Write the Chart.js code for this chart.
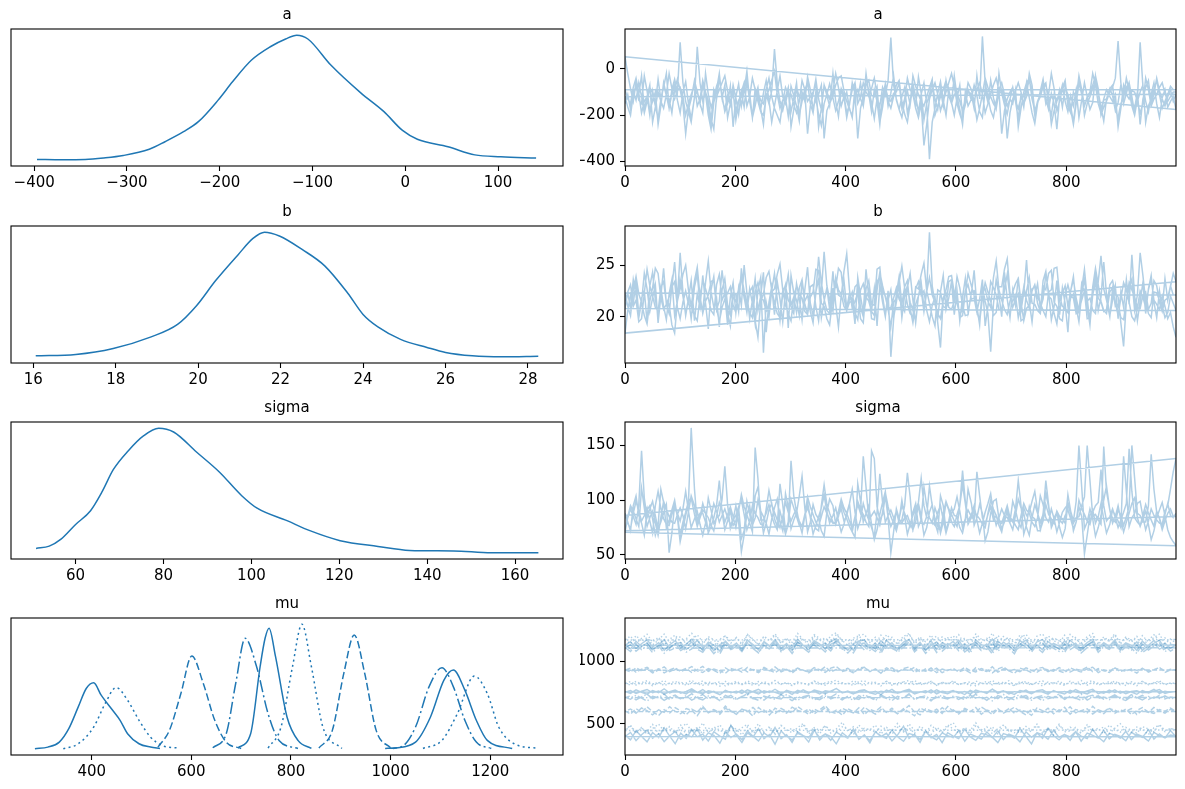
<!DOCTYPE html>
<html>
<head>
<meta charset="utf-8">
<script src="https://cdn.jsdelivr.net/npm/chart.js@4.4.0/dist/chart.umd.min.js"></script>
<style>
  body { margin: 0; background: #fff; width: 1185px; height: 789px; position: relative; overflow: hidden; }
  canvas { position: absolute; }
</style>
</head>
<body>
<canvas id="kde-a"></canvas><canvas id="trace-a"></canvas>
<canvas id="kde-b"></canvas><canvas id="trace-b"></canvas>
<canvas id="kde-sigma"></canvas><canvas id="trace-sigma"></canvas>
<canvas id="kde-mu"></canvas><canvas id="trace-mu"></canvas>
<script>
// ---- density curves (x, relative height) ----
const kdeAX = [-397, -370, -345, -325, -304, -276, -259, -239, -223, -202, -186, -166, -145, -129, -117, -105, -80, -48, -23, -3, 13, 46, 75, 103, 141];
const kdeAY = [0.9, 0.6, 0.8, 2, 4, 9, 15, 23, 31, 48, 63, 80, 91, 97, 100, 97, 76, 54, 39, 24, 17, 11, 4.5, 3, 2];

const kdeBX = [16.06, 17.03, 17.94, 18.86, 19.5, 19.96, 20.42, 20.97, 21.33, 21.61, 21.97, 22.53, 23.07, 23.63, 24.0, 24.36, 24.91, 25.55, 26.0, 26.65, 27.38, 28.25];
const kdeBY = [0.8, 1.9, 6.7, 16, 26, 41, 61, 82, 95, 100, 97, 86, 73, 51, 34, 24, 14, 7.5, 3.5, 0.8, 0, 0.5];

const kdeSigmaX = [51, 54, 56.6, 60, 63.4, 66, 68.6, 72, 75.5, 78.9, 82.3, 87.5, 92.7, 97.8, 101.3, 108.1, 113.3, 120.2, 128.8, 136, 146, 154.6, 165.3];
const kdeSigmaY = [3.8, 5.6, 11, 23, 34, 49, 67, 82, 94, 100, 97, 81, 65, 46, 36, 26, 18, 10, 5.4, 2.2, 1.8, 0.3, 0.4];

const muKdeX = [
  [286, 312, 335, 354, 373, 389, 404, 419, 442, 457, 472, 495, 518, 537],
  [343, 373, 404, 427, 449, 472, 495, 518, 541, 575],
  [533, 556, 579, 601, 624, 647, 670, 700],
  [643, 670, 689, 708, 731, 754, 776, 814],
  [693, 719, 738, 748, 756, 769, 792, 814, 841],
  [754, 780, 803, 822, 841, 864, 902],
  [856, 883, 906, 927, 948, 971, 1001],
  [989, 1020, 1050, 1077, 1103, 1126, 1149, 1172, 1202],
  [1005, 1050, 1080, 1107, 1126, 1149, 1172, 1194, 1244],
  [1065, 1103, 1134, 1168, 1194, 1217, 1248, 1297]
];
const muKdeY = [
  [0, 5, 20, 60, 125, 180, 197, 160, 115, 85, 45, 15, 5, 1],
  [0, 15, 65, 135, 183, 145, 85, 35, 10, 2],
  [5, 55, 165, 277, 195, 85, 20, 1],
  [3, 45, 195, 330, 245, 105, 25, 1],
  [2, 45, 245, 330, 360, 275, 95, 25, 1],
  [2, 65, 245, 372, 245, 65, 1],
  [2, 55, 225, 340, 225, 55, 1],
  [1, 5, 65, 185, 242, 185, 85, 20, 1],
  [1, 20, 95, 205, 235, 175, 85, 25, 1],
  [1, 25, 105, 217, 165, 65, 15, 1]
];

// ---- traces (every 5th draw, 4 chains each) ----
const traceA = [
  [-150,-110,-175,-95,-135,-60,-120,-190,-140,-80,-105,-160,-215,-130,-70,-115,-170,-90,-45,-100,
   115,-60,-140,-185,-230,-120,-95,-150,-75,-110,-200,-260,-145,-90,-20,-130,-175,-115,-155,-70,
   -125,-195,-100,-165,-55,-135,-210,-85,-120,-170,-240,-110,-150,-95,85,-60,-140,-180,-125,-205,
   -75,-115,-160,-225,-100,-140,-35,-90,-170,-130,-195,-245,-150,-110,-65,-125,-180,-140,-85,-115,
   -190,-155,-60,-105,-300,-170,-120,-40,-95,-145,-215,-130,-160,-80,-115,-50,135,-70,-130,-175,
   -210,-140,-95,-155,-65,-120,-185,-110,-60,-150,-390,-230,-170,-105,-55,-135,-200,-90,-145,-30,
   -120,-175,-240,-100,-160,-130,-70,-115,-185,-210,-90,-145,-50,-125,-170,-20,-105,-155,-195,-130,
   -80,-140,-215,-110,-165,-60,-125,-190,-235,-150,-95,-45,-130,-175,-105,-150,-260,-120,-70,-140,
   -185,-115,-160,-90,-210,-135,-60,-120,-175,-145,-30,-100,-165,-225,-130,-85,-115,-180,-145,-70,
   -120,-40,-95,-160,-200,-130,115,-75,-140,-185,-110,-60,-150,-210,-125,-90,-165,-140,-120,-175],
  [52,-20,-85,-140,-60,-110,-30,-175,-120,-200,-95,-150,-45,-130,-80,-20,-165,-110,-70,-135,
   -190,-100,-55,-150,-215,-125,95,-60,-140,-105,-170,-230,-90,-130,-40,-115,-185,-150,-75,-250,
   -120,-65,-160,-95,-10,-140,-200,-120,-80,-175,-105,-50,-135,-230,-160,-95,-30,-120,-150,-90,
   -185,-125,-60,-200,-140,-100,-280,-160,-110,-45,-130,-175,-70,-115,-160,-20,-140,-205,-90,-130,
   -100,-170,-210,-80,-125,-60,-150,-20,-110,-185,-90,-140,-240,-120,-65,-160,-105,-30,-135,-175,
   -120,-80,-190,-140,-95,-160,-35,-105,-220,-150,-110,-60,-130,-175,-90,-160,-50,-115,-145,-200,
   -125,-70,-200,-155,-95,-110,-170,-30,-130,140,-60,-120,-180,-210,-140,-90,-60,-110,-160,-130,
   -150,-90,-250,-170,-100,-60,-40,-130,-180,-145,-120,-75,-60,-155,-200,-110,-140,-90,-165,-80,
   -110,-160,-230,-130,-50,-90,-160,-120,-100,-20,-70,-150,-190,-135,-130,-85,-70,-175,-210,-150,
   -120,-80,-60,-140,-170,-100,-240,-130,-80,-50,-150,-110,-40,-95,-130,-160,-120,-90,-140,-110],
  [-120,-165,-200,-110,-70,-135,-150,-30,-95,-180,-140,-100,-240,-160,-60,-115,-130,-190,-90,-45,
   -90,-150,-280,-175,-130,-50,-100,-150,-190,-20,-110,-165,-130,-75,-40,-125,-70,-210,-150,-95,
   -220,-140,-100,-60,-160,-120,-40,-90,-140,-185,-200,-120,-90,-50,-10,-110,-170,-135,-120,-80,
   -250,-175,-80,-120,-130,-90,-60,-150,-190,-100,-110,-70,-300,-180,-150,-115,-70,-40,-30,-95,
   -140,-175,-200,-120,-90,-130,-160,-70,-50,-115,-120,-80,-230,-165,-80,-125,-140,-105,-100,-60,
   -170,-130,-40,-90,-110,-170,-210,-150,-330,-240,-130,-90,-60,-110,-180,-140,-100,-60,-20,-75,
   -150,-195,-230,-120,-90,-135,-140,-90,-60,-110,-190,-150,-110,-70,-40,-95,-280,-180,-130,-100,
   -80,-140,-170,-125,-120,-90,-50,-100,-200,-150,-100,-70,-150,-110,-20,-85,-180,-140,-90,-60,
   -130,-175,-240,-150,-60,-110,-160,-125,-110,-70,-30,-85,-200,-165,-140,-100,-80,-40,120,-60,
   -150,-105,-60,-120,-190,-140,-100,-70,-230,-160,-130,-90,-50,-110,-170,-140,-110,-75,-90,-90],
  [-90,-130,-150,-80,-40,-105,-190,-140,-120,-70,-230,-165,-100,-140,-170,-110,-20,-85,-130,-95,
   -80,-120,-200,-150,-110,-70,-160,-130,-50,-100,-140,-215,-260,-120,-90,-60,-30,-95,-145,-110,
   -180,-135,-120,-80,-60,-105,-210,-160,-100,-135,-150,-90,-40,-120,-170,-200,-230,-140,-80,-110,
   -110,-155,-190,-140,-50,-90,-140,-120,-100,-65,-250,-170,-70,-100,-130,-95,-20,-80,-160,-120,
   -210,-150,-90,-60,-150,-120,-60,-100,-120,-85,-40,-110,-190,-150,-100,-140,-170,-120,-70,-50,
   -140,-195,-230,-150,-30,-75,-110,-140,-160,-120,-80,-45,-200,-160,-120,-90,-50,-115,-150,-110,
   -100,-140,-180,-130,-60,-90,-140,-220,-170,-110,-40,-80,-120,-150,-170,-100,-90,-130,-300,-190,
   -130,-95,-60,-100,-150,-120,-20,-70,-190,-140,-110,-80,-70,-120,-240,-180,-140,-110,-80,-50,
   -160,-190,-100,-130,-30,-90,-200,-150,-120,-85,-60,-105,-180,-130,-90,-120,-140,-110,-250,-170,
   -70,-110,-130,-95,-100,-140,-190,-150,-40,-90,-160,-130,-110,-80,-60,-105,-140,-120,-100,-100]
];
const traceB = [
  [21.5,22.3,20.8,23.6,22.1,19.9,21.4,24.2,22.7,20.5,21.8,23.1,19.4,22.0,24.7,21.2,20.3,22.9,25.3,21.6,
   26.2,22.4,20.1,21.7,23.5,19.6,22.2,20.9,24.0,21.3,18.8,22.6,23.9,20.7,21.5,24.5,22.1,19.2,21.9,23.3,
   20.4,22.8,21.1,25.0,22.3,19.8,21.6,23.7,20.6,22.0,24.3,18.5,21.4,22.9,20.2,23.4,21.7,19.5,22.5,24.1,
   21.0,20.3,23.2,21.8,19.7,22.6,24.8,21.3,20.1,22.4,23.6,19.9,21.5,22.8,20.7,24.4,21.2,19.0,22.1,23.5,
   20.8,22.3,21.6,19.3,23.8,22.0,20.4,24.6,21.9,20.6,22.7,19.1,23.1,21.4,20.0,22.5,16.1,19.7,22.2,23.9,
   21.1,20.5,22.8,24.2,21.6,19.4,22.0,23.3,20.9,22.6,28.2,23.0,21.3,19.8,22.4,24.0,20.7,21.8,23.4,20.2,
   22.5,19.6,21.9,23.7,20.4,22.2,24.5,21.0,19.2,22.9,21.5,20.3,16.6,21.2,23.6,22.1,20.0,24.3,21.7,19.9,
   22.6,21.1,23.8,20.6,22.3,25.5,21.4,19.5,22.0,23.2,20.8,21.7,24.1,22.4,19.7,21.0,23.5,20.2,22.8,21.3,
   18.5,22.5,23.9,21.1,20.4,22.7,24.6,21.8,19.3,22.1,23.4,20.6,21.9,25.3,22.2,20.1,21.6,23.0,19.8,22.4,
   20.9,23.6,21.2,26.0,22.0,19.6,21.5,23.3,20.3,22.7,24.0,21.4,19.9,22.5,20.8,23.7,21.6,22.9,24.2,23.4],
  [18.4,20.6,22.1,21.3,23.4,20.2,21.8,22.5,19.5,23.0,24.3,21.6,20.4,22.8,21.0,19.7,22.2,23.6,20.1,21.5,
   23.6,22.0,20.3,21.7,19.8,22.9,24.1,21.2,20.6,23.3,25.4,22.4,20.9,21.8,19.0,22.6,23.7,21.1,20.2,22.3,
   22.1,20.5,24.7,21.9,20.4,22.7,21.3,19.3,22.6,23.8,16.5,21.4,20.0,22.5,24.2,21.7,19.6,22.2,23.1,18.9,
   24.0,22.3,21.6,20.1,23.5,21.2,20.3,22.9,23.1,21.0,19.6,22.4,26.3,23.0,21.7,20.5,23.7,22.1,21.9,24.4,
   26.1,22.6,20.8,21.5,22.3,19.8,19.4,22.7,23.5,21.2,21.1,24.6,24.8,22.0,20.2,21.6,22.6,19.9,21.4,23.1,
   19.9,22.1,23.0,21.4,20.6,22.9,22.7,24.1,25.2,22.5,21.3,20.0,19.1,22.6,22.4,21.0,20.8,23.4,23.6,21.8,
   21.7,19.9,20.1,22.3,24.2,23.0,22.0,20.5,19.5,21.8,23.3,22.4,21.5,20.1,20.4,22.9,22.9,24.6,25.6,22.3,
   20.9,21.7,22.2,19.6,19.8,22.5,23.8,21.3,21.2,20.6,20.3,23.0,22.6,24.2,24.5,21.4,21.0,19.8,19.6,22.1,
   23.1,22.0,21.8,20.3,20.5,23.2,22.4,21.0,19.2,22.6,24.0,21.8,21.4,20.5,20.7,23.1,23.5,22.2,21.9,19.4,
   17.1,21.5,22.8,23.6,20.6,22.1,26.2,24.0,21.5,20.3,19.9,22.4,22.3,21.6,21.1,19.9,20.4,22.0,21.3,20.6],
  [20.8,22.4,23.1,21.0,21.6,19.5,19.8,22.3,24.6,23.0,22.0,20.9,20.5,22.8,23.4,21.4,21.2,19.2,18.4,21.5,
   22.7,24.1,25.0,22.6,21.0,20.1,19.6,22.0,23.5,22.7,21.8,20.6,20.2,23.1,24.1,21.6,22.3,20.4,19.1,21.9,
   21.5,22.7,23.8,21.8,20.7,22.4,22.9,19.6,18.0,21.5,22.2,23.8,24.4,22.6,21.4,20.3,19.9,22.5,23.0,21.6,
   21.1,21.9,20.4,22.8,23.6,21.5,22.1,20.5,19.4,22.3,25.8,23.3,21.7,20.6,20.3,22.7,22.8,24.7,24.3,21.8,
   20.6,21.7,22.4,20.4,19.7,22.6,23.2,21.9,21.5,20.5,20.1,23.4,23.9,22.5,22.0,20.7,19.0,21.4,21.8,23.3,
   24.9,22.8,21.2,20.3,20.0,22.7,23.4,22.1,22.5,20.6,19.5,21.1,21.9,19.4,17.0,21.8,22.6,23.9,24.0,22.3,
   21.3,20.2,20.7,22.5,23.1,21.7,21.8,20.4,19.8,22.4,22.7,21.5,20.9,23.8,25.4,22.6,21.6,20.7,20.2,21.5,
   22.4,23.2,23.7,21.4,19.6,20.8,21.1,22.7,22.9,21.3,20.5,23.5,24.4,22.0,21.7,20.3,19.3,21.8,22.2,23.0,
   21.0,22.5,23.6,21.8,20.6,21.6,22.5,19.8,19.9,22.9,24.7,23.1,21.5,20.6,20.3,22.4,22.8,21.0,21.2,19.9,
   19.7,21.6,23.3,22.6,21.9,20.9,20.8,22.1,22.4,20.7,21.3,23.5,23.0,21.4,20.5,21.6,21.8,23.0,22.1,22.1],
  [22.3,21.0,20.1,22.6,23.9,22.2,21.4,20.1,19.3,21.5,22.8,24.7,24.2,21.8,20.7,21.2,21.9,22.9,23.4,20.9,
   19.8,21.4,22.5,21.2,21.0,23.5,24.8,22.0,20.3,21.5,22.1,23.4,23.6,20.8,19.5,20.9,21.7,22.3,22.9,21.1,
   20.4,22.6,24.0,22.5,21.3,20.4,19.9,22.4,23.3,21.8,21.6,20.5,20.8,22.4,22.7,24.1,25.1,22.6,21.1,20.3,
   19.6,21.9,23.0,22.2,21.8,20.5,20.2,21.9,22.4,24.6,24.5,21.3,21.0,19.8,19.2,22.0,23.7,22.6,22.2,21.0,
   20.6,21.4,21.5,22.9,23.2,20.9,20.0,21.7,22.6,19.8,19.7,22.6,24.3,23.0,21.9,20.8,20.9,21.8,22.8,21.7,
   21.2,22.9,23.5,20.8,19.4,21.2,22.0,22.6,20.5,22.4,23.8,22.1,21.4,20.3,19.8,21.6,22.3,20.9,20.7,21.5,
   23.9,22.8,21.1,20.1,20.2,22.4,22.5,20.5,21.7,23.6,19.1,21.0,23.4,22.8,22.1,20.7,20.6,22.6,24.1,21.9,
   21.5,22.1,19.9,21.3,22.9,21.6,20.8,22.5,23.1,21.9,21.3,20.6,20.0,22.4,22.6,24.7,24.8,22.0,21.0,20.8,
   20.4,21.8,22.2,20.9,19.5,22.2,23.6,21.5,21.8,20.6,20.3,23.4,25.9,22.7,21.6,20.0,22.7,21.4,20.1,21.8,
   23.3,22.6,21.4,20.0,19.6,20.8,22.5,21.9,20.9,22.6,23.7,21.6,21.2,20.7,22.0,21.0,19.8,20.4,19.0,18.0]
];
const traceSigma = [
  [88,80,72,95,104,86,79,68,91,95,83,68,77,110,98,75,82,91,100,84,
   62,74,86,97,166,110,78,85,97,88,70,76,84,95,118,89,73,81,90,77,
   81,93,65,72,99,87,76,104,112,90,85,79,69,83,93,101,80,72,106,94,
   74,82,88,104,122,93,71,80,96,87,83,72,67,89,101,95,78,86,92,81,
   86,97,71,66,115,99,80,88,95,78,64,73,87,98,108,85,76,82,90,79,
   82,95,125,103,73,80,97,86,68,75,89,96,79,71,104,95,72,81,93,86,
   85,75,70,82,110,97,77,84,96,88,63,71,88,99,101,83,74,80,91,84,
   80,92,118,95,69,78,94,85,83,72,72,88,106,94,78,84,89,75,66,74,
   97,90,81,99,150,112,74,80,92,83,67,75,86,100,113,91,79,85,95,82,
   71,80,88,97,102,84,76,83,90,78,64,72,84,91,98,86,73,66,62,58.5],
  [70.8,84,92,85,78,96,145,102,84,92,99,86,73,80,88,96,52,70,96,88,
   81,92,108,90,75,83,90,78,68,79,102,91,79,84,86,101,131,96,74,82,
   95,80,53,68,87,95,77,84,100,88,70,79,91,97,83,76,115,96,72,80,
   136,104,89,81,76,87,98,84,69,77,85,93,104,90,79,86,93,81,71,78,
   88,97,110,89,74,82,97,88,82,75,67,89,124,98,80,86,91,84,75,82,
   100,85,69,78,86,93,94,81,78,85,113,95,83,76,72,88,99,92,87,81,
   76,95,127,99,81,87,95,82,70,79,89,97,106,88,77,84,92,86,84,79,
   73,86,101,93,88,75,68,84,96,88,80,87,118,96,75,81,90,85,83,79,
   105,90,72,80,94,85,51,68,86,91,79,85,97,83,70,78,91,86,81,75,
   140,108,76,84,88,97,99,85,73,81,92,86,82,79,78,90,95,110,126,138],
  [86,79,74,88,99,90,81,86,93,81,70,95,108,92,83,78,77,87,95,86,
   68,80,89,99,102,87,76,84,91,88,84,77,72,85,98,91,80,87,94,85,
   75,90,105,94,87,79,71,148,120,82,82,88,96,85,78,73,90,80,69,78,
   101,93,85,77,76,86,93,85,80,74,72,95,114,96,88,80,79,85,97,89,
   83,76,71,85,99,92,87,80,76,145,138,94,82,87,104,84,52,71,92,83,
   79,84,86,79,73,90,98,120,95,84,84,80,77,89,95,82,70,79,88,92,
   103,90,75,83,91,85,82,126,104,84,78,87,94,82,86,77,71,84,88,80,
   99,91,80,75,93,86,89,99,108,90,73,81,96,87,83,79,89,82,79,86,
   91,83,74,80,100,92,87,81,78,89,95,98,128,95,81,85,92,84,75,82,
   89,97,147,108,84,80,77,86,96,88,82,76,90,83,73,81,88,92,85,85],
  [72,85,95,90,83,76,111,93,76,84,90,79,68,84,99,92,85,80,79,87,
   93,86,74,89,104,95,82,88,88,80,71,84,97,90,80,86,92,84,78,82,
   86,94,100,87,73,81,95,88,84,78,77,92,109,96,89,82,75,85,98,89,
   81,87,92,79,70,86,103,94,87,80,76,85,94,88,83,79,79,90,101,93,
   88,81,74,85,96,88,140,112,82,86,90,84,77,89,107,94,85,79,72,83,
   95,88,81,76,89,97,76,82,112,95,84,79,93,85,70,80,98,91,80,76,
   87,95,114,97,78,84,91,86,83,78,75,88,100,92,86,80,79,87,95,84,
   82,77,73,86,97,91,88,80,76,84,104,96,84,80,92,83,71,80,89,93,
   96,88,79,84,85,95,103,150,118,85,87,82,78,149,108,91,83,80,91,86,
   77,85,94,150,120,88,86,80,80,95,142,110,89,84,75,87,97,86,84,88]
];
// mu: 10 components, 2 chains of every 10th draw each
const traceMu = [
  [[410,372,445,398,356,430,389,467,402,341,425,384,452,395,418,362,436,401,377,489,
    408,350,428,393,461,380,414,337,442,399,371,423,406,355,447,390,419,368,433,404,
    386,458,375,412,348,437,397,424,363,409,481,383,416,352,440,395,372,428,406,389,
    445,360,418,400,378,434,393,350,421,407,385,462,397,340,429,411,376,448,391,415,
    368,436,402,381,455,394,357,423,409,386,440,373,417,399,362,431,405,388,446,396],
   [398,431,365,412,449,384,420,357,402,438,376,415,393,461,369,427,408,345,433,390,
    417,374,444,401,362,426,395,470,381,413,352,437,406,388,455,371,419,398,340,428,
    392,446,378,410,365,434,403,384,451,397,360,422,409,376,440,387,415,349,429,402,
    381,457,394,367,424,411,389,443,373,418,400,356,436,392,427,383,465,404,371,414,
    396,437,361,425,408,385,449,379,416,399,364,432,405,391,453,377,420,387,410,402]],
  [[452,488,431,470,415,463,497,440,478,424,459,505,437,472,419,466,446,491,428,481,
    455,410,474,443,500,432,468,421,485,449,462,436,495,417,470,447,483,426,458,512,
    441,476,429,464,452,489,418,471,444,502,435,467,423,480,450,415,473,438,492,457,
    427,469,446,508,433,475,420,462,487,442,456,425,479,448,497,431,466,411,484,453,
    438,471,426,493,459,444,477,420,465,501,447,430,474,455,414,468,489,437,461,450],
   [446,481,425,467,438,495,419,472,453,433,489,411,462,444,506,428,475,450,417,483,
    441,468,496,423,459,435,478,414,487,452,429,470,501,440,463,420,485,448,432,476,
    457,413,490,443,466,427,480,455,418,472,436,499,445,461,424,488,451,430,474,509,
    439,465,421,483,456,434,477,415,492,447,428,469,453,437,486,422,460,444,497,431,
    473,450,426,481,442,465,418,489,455,433,471,448,424,478,458,436,494,445,463,451]],
  [[603,578,621,590,635,597,566,612,584,628,601,572,617,593,640,587,609,575,624,596,
    582,615,604,561,630,592,611,579,622,599,588,637,606,574,618,595,627,583,609,568,
    620,598,585,632,602,576,614,591,625,580,607,645,594,571,619,603,586,628,597,612,
    578,623,600,589,634,606,573,616,592,621,584,610,598,567,626,604,588,619,595,631,
    576,613,601,586,639,597,580,622,608,590,617,573,605,629,593,582,614,600,625,598],
   [597,618,583,626,604,571,612,590,636,599,580,621,606,565,628,593,614,586,641,602,
    575,617,596,630,588,609,569,624,600,584,633,607,592,619,578,611,644,595,581,622,
    603,587,627,573,615,598,634,589,608,579,620,594,563,626,605,591,617,582,638,600,
    586,613,597,629,575,610,593,621,584,606,632,599,570,618,602,589,624,580,611,596,
    635,587,604,619,577,612,595,627,583,609,598,621,574,606,590,630,601,585,615,599]],
  [[712,695,728,704,681,719,707,738,692,715,700,724,688,711,733,697,718,684,709,726,
    693,714,741,702,687,721,706,695,730,711,684,717,703,725,690,709,736,698,713,689,
    722,705,694,731,710,686,718,701,727,696,708,739,691,715,703,682,724,707,698,720,
    711,692,729,704,716,687,721,699,734,706,690,713,725,697,710,683,719,705,728,694,
    716,702,737,689,712,723,696,708,731,700,685,718,706,727,693,714,701,722,697,709],
   [708,723,691,715,735,700,719,686,712,728,696,709,740,703,690,721,714,683,726,706,
    694,718,731,700,711,688,724,705,697,733,709,685,716,727,701,692,720,713,738,698,
    710,687,725,704,716,693,730,707,684,719,702,734,695,712,723,689,708,727,700,715,
    693,720,706,736,697,711,682,724,709,691,717,730,703,688,714,725,699,710,739,694,
    721,705,686,716,728,701,713,692,722,707,696,732,710,689,718,703,726,697,714,708]],
  [[757,742,770,751,736,764,748,779,745,760,753,738,767,749,773,741,758,732,762,754,
    746,769,739,757,775,744,761,750,734,766,752,743,771,748,759,737,764,755,781,745,
    762,740,753,768,747,735,760,751,774,743,757,766,738,752,763,745,771,749,739,761,
    754,733,767,746,758,742,776,750,763,737,756,748,769,741,760,752,735,765,747,758,
    744,772,751,738,762,755,743,768,749,760,740,757,764,746,753,775,742,759,750,756],
   [752,766,741,759,773,747,762,735,756,769,744,758,778,750,739,764,753,731,767,748,
    760,742,771,754,737,763,749,775,745,758,734,766,752,743,769,757,740,761,781,748,
    755,738,764,772,746,759,733,768,751,744,762,774,741,756,747,770,738,760,752,765,
    743,757,736,769,754,748,776,742,761,750,734,766,755,740,763,771,745,758,749,737,
    767,752,744,762,775,739,757,748,770,743,760,753,735,765,746,759,772,741,754,756]],
  [[824,808,838,817,830,803,826,845,812,821,835,806,828,819,842,810,825,833,801,820,
    839,814,827,807,836,823,811,844,818,829,805,832,822,813,840,809,826,837,816,828,
    812,843,820,804,834,825,815,839,808,827,831,817,846,811,823,836,806,829,819,841,
    813,826,834,802,822,838,810,830,818,843,807,825,836,815,828,800,833,821,840,812,
    827,819,845,808,831,823,814,837,820,829,805,834,818,839,811,826,832,816,824,820],
   [820,836,809,827,843,815,831,804,823,839,812,826,846,818,807,833,821,800,838,814,
    829,811,841,824,806,835,817,844,813,828,803,832,822,810,840,825,808,834,847,816,
    823,805,837,842,814,830,801,839,819,811,833,845,809,827,815,838,806,830,821,835,
    812,826,804,840,823,817,846,810,832,819,802,837,824,808,833,842,813,828,818,806,
    839,822,811,831,844,807,826,816,841,812,830,821,803,836,815,828,843,809,825,822]],
  [[930,912,947,921,938,905,929,953,916,934,924,941,909,931,957,918,936,922,902,940,
    927,945,913,933,919,950,925,908,939,931,916,944,928,906,937,922,955,914,932,926,
    942,910,929,948,920,935,904,931,946,917,933,925,951,911,938,920,943,907,930,936,
    918,949,924,913,941,928,906,937,954,921,932,915,946,926,910,939,930,919,948,923,
    912,935,927,952,916,940,922,909,944,929,918,937,925,943,911,932,947,920,934,928],
   [927,944,911,935,951,918,938,906,929,947,915,933,956,921,909,940,926,901,945,919,
    936,912,949,928,907,942,922,953,914,934,904,939,927,913,948,931,910,943,957,917,
    928,905,944,950,916,937,903,946,923,912,940,952,909,932,918,945,907,936,925,941,
    913,930,906,947,926,917,955,911,938,921,902,943,928,908,939,949,915,933,920,906,
    946,926,912,937,951,908,930,918,948,914,935,924,904,942,917,931,950,910,929,927]],
  [[1108,1076,1134,1092,1121,1067,1113,1149,1085,1102,1128,1071,1097,1140,1083,1116,1058,1109,1131,1090,
    1118,1079,1145,1100,1065,1124,1094,1137,1074,1111,1087,1152,1104,1069,1127,1096,1119,1081,1142,1099,
    1063,1115,1133,1088,1106,1075,1138,1093,1121,1070,1110,1147,1086,1125,1061,1103,1130,1078,1117,1095,
    1143,1072,1108,1126,1084,1114,1056,1136,1098,1122,1080,1111,1144,1089,1105,1068,1129,1101,1077,1139,
    1091,1118,1064,1107,1135,1082,1123,1097,1146,1073,1112,1087,1128,1066,1103,1141,1094,1119,1079,1106],
   [1102,1131,1078,1115,1146,1089,1123,1062,1107,1139,1083,1112,1151,1095,1070,1128,1104,1057,1136,1091,
    1119,1075,1143,1108,1066,1132,1098,1148,1081,1117,1060,1126,1103,1087,1140,1113,1072,1134,1155,1094,
    1106,1064,1137,1144,1085,1121,1059,1141,1100,1079,1129,1149,1073,1111,1090,1138,1068,1124,1101,1133,
    1082,1116,1063,1145,1107,1093,1152,1077,1127,1099,1058,1139,1110,1071,1130,1147,1086,1118,1096,1067,
    1142,1105,1080,1125,1150,1069,1114,1092,1136,1084,1122,1103,1061,1135,1088,1119,1144,1074,1109,1105]],
  [[1130,1097,1158,1116,1141,1089,1127,1170,1105,1136,1148,1094,1122,1163,1110,1138,1082,1131,1155,1102,
    1143,1087,1168,1124,1095,1150,1117,1160,1099,1133,1108,1175,1126,1090,1152,1119,1144,1103,1165,1121,
    1086,1139,1157,1112,1129,1096,1162,1115,1146,1092,1134,1171,1107,1149,1084,1125,1153,1100,1140,1118,
    1166,1093,1131,1151,1106,1137,1079,1159,1120,1145,1101,1135,1167,1111,1127,1091,1154,1123,1098,1161,
    1114,1142,1088,1130,1156,1104,1147,1119,1169,1096,1136,1109,1152,1085,1126,1164,1117,1143,1102,1129],
   [1125,1154,1101,1138,1169,1112,1146,1085,1130,1162,1106,1135,1174,1118,1093,1151,1127,1080,1159,1114,
    1142,1098,1166,1131,1089,1155,1121,1171,1104,1140,1083,1149,1126,1110,1163,1136,1095,1157,1178,1117,
    1129,1087,1160,1167,1108,1144,1082,1164,1123,1102,1152,1172,1096,1134,1113,1161,1091,1147,1124,1156,
    1105,1139,1086,1168,1130,1116,1175,1100,1150,1122,1081,1162,1133,1094,1153,1170,1109,1141,1119,1090,
    1165,1128,1103,1148,1173,1092,1137,1115,1159,1107,1145,1126,1084,1158,1111,1142,1167,1097,1132,1128]],
  [[1172,1138,1203,1157,1186,1129,1168,1215,1146,1180,1193,1135,1163,1209,1151,1178,1121,1174,1200,1143,
    1188,1126,1212,1166,1134,1196,1159,1205,1140,1177,1149,1220,1170,1131,1198,1161,1185,1144,1210,1163,
    1127,1182,1202,1153,1171,1137,1207,1158,1190,1133,1176,1216,1148,1194,1124,1167,1199,1141,1184,1160,
    1211,1132,1173,1197,1147,1181,1119,1204,1162,1189,1142,1179,1213,1152,1169,1130,1201,1165,1139,1206,
    1156,1187,1128,1175,1201,1145,1192,1161,1218,1136,1183,1150,1197,1125,1168,1209,1158,1185,1143,1171],
   [1168,1199,1140,1181,1214,1152,1190,1124,1173,1207,1146,1178,1221,1160,1132,1195,1169,1118,1204,1155,
    1186,1137,1211,1175,1128,1200,1163,1217,1145,1184,1121,1193,1170,1150,1209,1180,1134,1202,1225,1158,
    1172,1126,1206,1213,1148,1189,1120,1210,1166,1142,1197,1219,1136,1178,1154,1207,1130,1192,1167,1201,
    1144,1183,1125,1215,1174,1157,1222,1139,1195,1164,1119,1208,1177,1133,1198,1216,1149,1186,1161,1129,
    1212,1171,1143,1194,1220,1131,1182,1156,1205,1147,1190,1169,1123,1203,1152,1187,1214,1138,1176,1170]]
];

// ---- tick labels ----
const kdeATicks = [-400, -300, -200, -100, 0, 100];
const kdeBTicks = [16, 18, 20, 22, 24, 26, 28];
const kdeSigmaTicks = [60, 80, 100, 120, 140, 160];
const kdeMuTicks = [400, 600, 800, 1000, 1200];
const drawTicks = [0, 200, 400, 600, 800];
const traceATicks = [-400, -200, 0];
const traceBTicks = [20, 25];
const traceSigmaTicks = [50, 100, 150];
const traceMuTicks = [500, 1000];

const FONT = { family: '"DejaVu Sans", sans-serif', size: 15 };
const C0 = '#1f77b4';
const TRACE = 'rgb(177,207,229)';
const TRACE_ALPHA = 'rgba(31,119,180,0.35)';
const KDE_DASH = [[], [2, 3.4], [7.5, 3.2], [12, 3.2, 2, 3.2]];
const TRACE_DASH = [[], [1.4, 2.3], [5, 2.2], [9, 2.2, 1.4, 2.2]];
const NDRAWS = 1000;

const minus = v => String(v).replace('-', '\u2212');

const boxPlugin = {
  id: 'box',
  afterDraw(chart) {
    const { ctx, chartArea: a } = chart;
    ctx.save();
    ctx.strokeStyle = '#000';
    ctx.lineWidth = 1.1;
    ctx.strokeRect(a.left, a.top, a.right - a.left, a.bottom - a.top);
    ctx.restore();
  }
};

function axis(min, max, ticks, pos, show, fit) {
  return {
    type: 'linear', position: pos, display: show, min, max,
    afterBuildTicks: s => { s.ticks = ticks.map(v => ({ value: v })); },
    afterFit: s => { if (pos === 'bottom') s.height = fit; else s.width = fit; },
    ticks: { font: FONT, color: '#000', padding: pos === 'bottom' ? 3 : 5, autoSkip: false, maxRotation: 0, callback: v => minus(v) },
    grid: { drawOnChartArea: false, drawTicks: true, tickLength: 5, tickColor: '#000', tickWidth: 1.1 },
    border: { display: false }
  };
}

function padRange(values) {
  const lo = Math.min(...values), hi = Math.max(...values);
  const m = (hi - lo) * 0.05;
  return [lo - m, hi + m];
}

const drawX = n => Array.from({ length: n }, (_, i) => Math.round(i * (NDRAWS - 1) / (n - 1)));

// chain after chain on one line, like the reference (wraps back to x = 0)
function chainPoints(chains) {
  return chains.flatMap(ch => { const xs = drawX(ch.length); return ch.map((v, i) => ({ x: xs[i], y: v })); });
}

const ROW_TOP = [29, 226, 422, 618];
const PLOT_H = 137;
const TITLE_H = 23;
const XAXIS_H = 30;

function panel(id, col, row, title, datasets, xAxis, yAxis) {
  const cv = document.getElementById(id);
  const left = col === 0 ? 0 : 580;
  const width = col === 0 ? 592 : 605;
  cv.width = width; cv.height = TITLE_H + PLOT_H + XAXIS_H;
  cv.style.left = left + 'px';
  cv.style.top = (ROW_TOP[row] - TITLE_H) + 'px';
  new Chart(cv, {
    type: 'scatter',
    data: { datasets },
    options: {
      responsive: false, animation: false, events: [],
      layout: { padding: col === 0 ? { left: 11, right: 29, top: 0, bottom: 0 } : { left: 0, right: 9, top: 0, bottom: 0 } },
      plugins: {
        legend: { display: false }, tooltip: { enabled: false },
        title: { display: true, text: title, color: '#000', font: { ...FONT, weight: 'normal', lineHeight: '18px' }, padding: { top: 0, bottom: 5 } }
      },
      scales: { x: xAxis, y: yAxis }
    },
    plugins: [boxPlugin]
  });
}

function kdeSet(xs, ys, dash) {
  return {
    data: xs.map((x, i) => ({ x, y: ys[i] })), showLine: true, borderColor: C0, borderWidth: 1.5,
    borderDash: dash || [], pointRadius: 0, cubicInterpolationMode: 'monotone', fill: false
  };
}

function traceSet(chains, color, dash, width) {
  return {
    data: chainPoints(chains), showLine: true, borderColor: color, borderWidth: width,
    borderDash: dash || [], pointRadius: 0, tension: 0, fill: false
  };
}

// row 1: a
const rA = padRange(kdeAY);
panel('kde-a', 0, 0, 'a', [kdeSet(kdeAX, kdeAY)],
  axis(-425, 170, kdeATicks, 'bottom', true, XAXIS_H), axis(rA[0], rA[1], [], 'left', false, 0));
panel('trace-a', 1, 0, 'a', [traceSet(traceA, TRACE, [], 1.5)],
  axis(0, 999, drawTicks, 'bottom', true, XAXIS_H), axis(-419, 172, traceATicks, 'left', true, 45));

// row 2: b
const rB = padRange(kdeBY);
panel('kde-b', 0, 1, 'b', [kdeSet(kdeBX, kdeBY)],
  axis(15.46, 28.85, kdeBTicks, 'bottom', true, XAXIS_H), axis(rB[0], rB[1], [], 'left', false, 0));
panel('trace-b', 1, 1, 'b', [traceSet(traceB, TRACE, [], 1.5)],
  axis(0, 999, drawTicks, 'bottom', true, XAXIS_H), axis(15.5, 28.8, traceBTicks, 'left', true, 45));

// row 3: sigma
const rS = padRange(kdeSigmaY);
panel('kde-sigma', 0, 2, 'sigma', [kdeSet(kdeSigmaX, kdeSigmaY)],
  axis(45.3, 170.9, kdeSigmaTicks, 'bottom', true, XAXIS_H), axis(rS[0], rS[1], [], 'left', false, 0));
panel('trace-sigma', 1, 2, 'sigma', [traceSet(traceSigma, TRACE, [], 1.5)],
  axis(0, 999, drawTicks, 'bottom', true, XAXIS_H), axis(46.3, 171.4, traceSigmaTicks, 'left', true, 45));

// row 4: mu (10 components, line style cycles)
const rM = padRange(muKdeY.flat());
panel('kde-mu', 0, 3, 'mu', muKdeX.map((xs, k) => kdeSet(xs, muKdeY[k], KDE_DASH[k % 4])),
  axis(238, 1346, kdeMuTicks, 'bottom', true, XAXIS_H), axis(rM[0], rM[1], [], 'left', false, 0));
panel('trace-mu', 1, 3, 'mu', traceMu.map((chains, k) => traceSet(chains, TRACE_ALPHA, TRACE_DASH[k % 4], 1.4)),
  axis(0, 999, drawTicks, 'bottom', true, XAXIS_H), axis(251, 1343, traceMuTicks, 'left', true, 45));
</script>
</body>
</html>
